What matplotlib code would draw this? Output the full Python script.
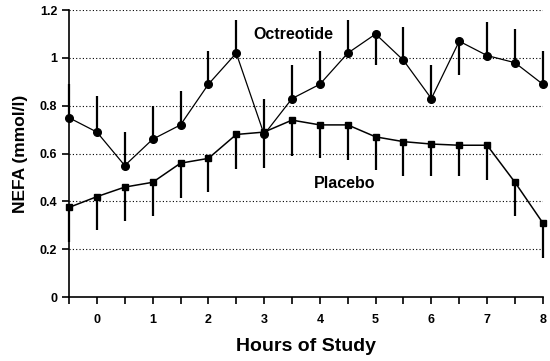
import matplotlib
matplotlib.use('Agg')
import matplotlib.pyplot as plt
import numpy as np

# hours of study
hours = [-0.5, 0, 0.5, 1, 1.5, 2, 2.5, 3, 3.5, 4, 4.5, 5, 5.5, 6, 6.5, 7, 7.5, 8]

# octreotide: mean and error (upper bars, except where drawn downward)
octreotide = [0.75, 0.69, 0.55, 0.66, 0.72, 0.89, 1.02, 0.68, 0.83, 0.89, 1.02, 1.10, 0.99, 0.83, 1.07, 1.01, 0.98, 0.89]
oct_err_up = [0.14, 0.15, 0.14, 0.14, 0.14, 0.14, 0.14, 0.15, 0.14, 0.14, 0.14, 0.0, 0.14, 0.14, 0.0, 0.14, 0.14, 0.14]
oct_err_down = [0, 0, 0, 0, 0, 0, 0, 0, 0, 0, 0, 0.13, 0, 0, 0.14, 0, 0, 0]

# placebo: mean and lower error
placebo = [0.375, 0.42, 0.46, 0.48, 0.56, 0.58, 0.68, 0.69, 0.74, 0.72, 0.72, 0.67, 0.65, 0.64, 0.635, 0.635, 0.48, 0.31]
plc_err_down = [0.145, 0.14, 0.14, 0.14, 0.145, 0.14, 0.145, 0.15, 0.15, 0.14, 0.145, 0.14, 0.145, 0.135, 0.13, 0.145, 0.14, 0.145]

fig = plt.figure(figsize=(5.5, 3.61), dpi=100)
ax = fig.add_axes([0.1255, 0.177, 0.8615, 0.795])

for y in [0.2, 0.4, 0.6, 0.8, 1.0, 1.2]:
    ax.axhline(y, color='black', linestyle=(0, (1, 2)), linewidth=0.8, zorder=0)

ax.errorbar(hours, octreotide, yerr=[oct_err_down, oct_err_up], fmt='-o', color='black',
            markersize=5.5, linewidth=0.9, elinewidth=1.6, capsize=0, clip_on=False, zorder=3)
ax.errorbar(hours, placebo, yerr=[plc_err_down, [0] * len(placebo)], fmt='-s', color='black',
            markersize=4, linewidth=1.1, elinewidth=1.6, capsize=0, clip_on=False, zorder=3)

ax.text(3.52, 1.10, 'Octreotide', fontsize=11.5, fontweight='bold', family='Liberation Sans', ha='center', va='center')
ax.text(4.45, 0.477, 'Placebo', fontsize=11.5, fontweight='bold', family='Liberation Sans', ha='center', va='center')

ax.set_xlim(-0.5, 8)
ax.set_ylim(0, 1.2)
ax.spines['top'].set_visible(False)
ax.spines['right'].set_visible(False)
ax.spines['left'].set_linewidth(1.2)
ax.spines['bottom'].set_linewidth(1.2)

ax.set_xticks(np.arange(0, 9, 1))
ax.set_xticks(np.arange(-0.5, 8.5, 1), minor=True)
ax.set_xticklabels([str(i) for i in range(0, 9)])
ax.set_yticks([0, 0.2, 0.4, 0.6, 0.8, 1.0, 1.2])
ax.set_yticklabels(['0', '0.2', '0.4', '0.6', '0.8', '1', '1.2'])
ax.tick_params(axis='both', which='both', direction='out', length=5, width=1.2, labelsize=9)
ax.tick_params(axis='x', which='major', pad=7)
for lbl in ax.get_xticklabels() + ax.get_yticklabels():
    lbl.set_fontweight('bold')
    lbl.set_family('Liberation Sans')

ax.set_xlabel('Hours of Study', fontsize=14, fontweight='bold', family='Liberation Sans', labelpad=9)
ax.set_ylabel('NEFA (mmol/l)', fontsize=12.5, fontweight='bold', family='Liberation Sans', labelpad=8)

fig.savefig('out.png', dpi=100)
